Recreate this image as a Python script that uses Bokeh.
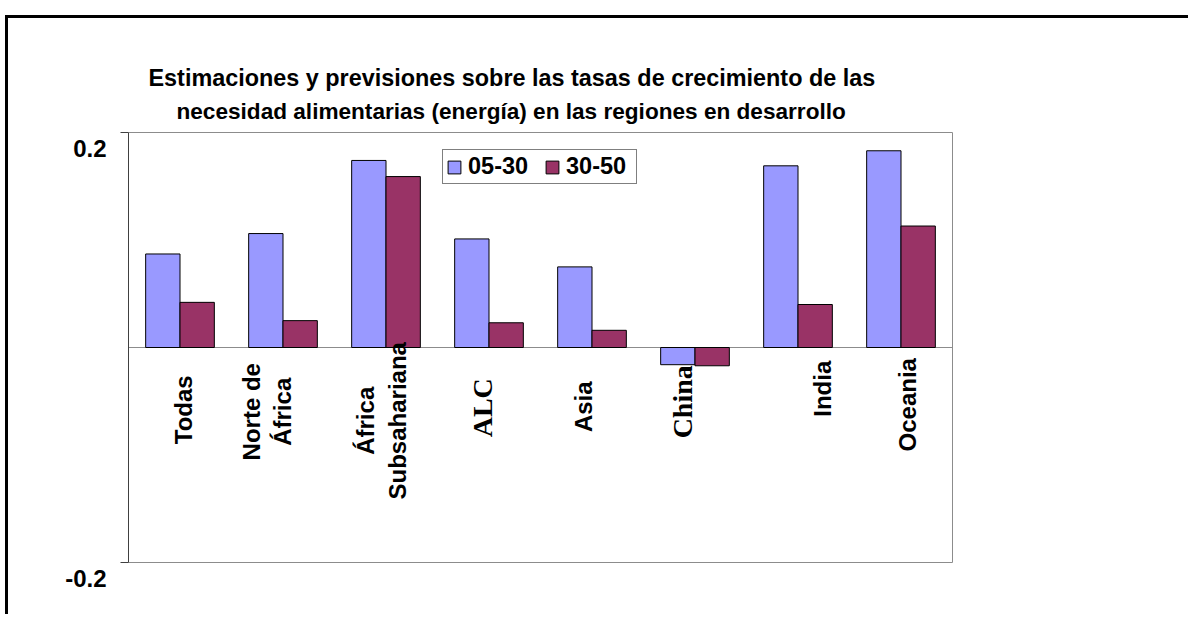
import numpy as np
from bokeh.plotting import figure
from bokeh.models import (ColumnDataSource, Range1d, Title, FixedTicker,
                          Legend, LegendItem, LinearAxis)
from bokeh.embed import file_html
from bokeh.resources import INLINE

# ---------------- data ----------------
categories = ["Todas", "Norte de\nÁfrica", "África\nSubsahariana", "ALC",
              "Asia", "China", "India", "Oceania"]
series_names = ["05-30", "30-50"]
s_05_30 = [0.087, 0.106, 0.174, 0.101, 0.075, -0.016, 0.169, 0.183]
s_30_50 = [0.042, 0.025, 0.159, 0.023, 0.016, -0.017, 0.040, 0.113]
y_ticks = [-0.2, 0.2]
y_tick_labels = {-0.2: "-0.2", 0.2: "0.2"}
title_lines = ["Estimaciones y previsiones sobre las tasas de crecimiento de las",
               "necesidad alimentarias (energía) en las regiones en desarrollo"]

# ---------------- styles ----------------
BLUE = "#9999FF"
RED = "#993366"
GREY = "#8c8c8c"
SANS = "Liberation Sans"
SERIF = "Liberation Serif"
label_fonts = [SANS, SANS, SANS, SERIF, SANS, SERIF, SANS, SANS]
label_sizes = ["24px", "24px", "24px", "28px", "24px", "28px", "24px", "24px"]
label_dx = [3.5, -16, -4.5, -6.5, -8.5, -12.5, 24.5, 6.5]
label_dy = [1, 3, 12, -1, -2, -7, -20, -4]

YMIN, YMAX = -0.2, 0.2
PLOT_H = 430.0                      # pixel height of the value axis span
PX = PLOT_H / (YMAX - YMIN)          # pixels per unit
EXTRA_BOTTOM = 20                    # room below the axis for the shifted label
LABEL_SHIFT = 16                     # tick labels sit 16px below their ticks
n = len(categories)
CAT_PX = 103.0

x = np.arange(n)
bw = 1.0 / 3.0

y_lo = YMIN - EXTRA_BOTTOM / PX
y_hi = YMAX + 1 / PX
frame_h = int(round((y_hi - y_lo) * PX))
x_hi = n - 0.5 + 1 / CAT_PX
frame_w = int(round((x_hi + 0.5) * CAT_PX))

W, H = 1183, 599
mb_left, mb_top = 120, 113

p = figure(width=W, height=H, output_backend="svg", toolbar_location=None,
           x_range=Range1d(-0.5, x_hi), y_range=Range1d(y_lo, y_hi),
           min_border_left=mb_left, min_border_top=mb_top,
           min_border_right=W - mb_left - frame_w,
           min_border_bottom=H - mb_top - frame_h, title=None)
p.styles = {"margin-left": "5px", "margin-top": "15px",
            "border-left": "3px solid black", "border-top": "3px solid black"}
p.xaxis.visible = False
p.xgrid.visible = False
p.ygrid.visible = False
p.outline_line_color = None
p.background_fill_color = "white"
p.border_fill_color = "white"

# axis carrying the tick marks (data range); marks drawn as unlabeled minor ticks
yax = p.yaxis[0]
yax.ticker = FixedTicker(ticks=[], minor_ticks=y_ticks)
yax.bounds = (YMIN, YMAX)
yax.major_tick_out = 0
yax.major_tick_in = 0
yax.minor_tick_out = 8
yax.minor_tick_in = 0
yax.axis_line_color = "#404040"
yax.minor_tick_line_color = "#404040"
yax.minor_tick_line_width = 1
yax.major_label_standoff = 0

# axis carrying the tick labels, drawn LABEL_SHIFT px below the ticks
shift = LABEL_SHIFT / PX
p.extra_y_ranges = {"lab": Range1d(y_lo + shift, y_hi + shift)}
lax = LinearAxis(y_range_name="lab", ticker=FixedTicker(ticks=y_ticks),
                 major_label_overrides=y_tick_labels)
lax.axis_line_color = None
lax.major_tick_line_color = None
lax.minor_tick_line_color = None
lax.major_tick_out = 0
lax.major_tick_in = 0
lax.major_label_text_font = SANS
lax.major_label_text_font_style = "bold"
lax.major_label_text_font_size = "24px"
lax.major_label_text_color = "black"
lax.major_label_standoff = 14
p.add_layout(lax, "left")

# plot-area border and zero line
p.quad(left=-0.5, right=n - 0.5, bottom=YMIN, top=YMAX, fill_color=None,
       line_color=GREY, line_width=1)
p.segment(x0=-0.5, x1=n - 0.5, y0=0, y1=0, line_color=GREY, line_width=1)

src = ColumnDataSource(dict(x=x, lab=categories, font=label_fonts,
                            size=label_sizes, dx=label_dx, dy=label_dy))
r1 = p.vbar(x=x - bw / 2, width=bw, top=s_05_30, bottom=0, fill_color=BLUE,
            line_color="black", line_width=1)
r2 = p.vbar(x=x + bw / 2, width=bw, top=s_30_50, bottom=0, fill_color=RED,
            line_color="black", line_width=1)

p.text(x="x", y=-0.057, text="lab", source=src, angle=np.pi / 2,
       text_align="center", text_baseline="middle", text_font="font",
       text_font_size="size", text_font_style="bold", text_color="black",
       x_offset="dx", y_offset="dy", text_line_height=1.18)

legend = Legend(items=[LegendItem(label=series_names[0], renderers=[r1]),
                       LegendItem(label=series_names[1], renderers=[r2])],
                location=(314, frame_h - (184 - 131)), orientation="horizontal")
legend.margin = 0
legend.padding = 3
legend.spacing = 9
legend.label_standoff = 6
legend.label_width = 67
legend.glyph_width = 16
legend.glyph_height = 16
legend.label_text_font = SANS
legend.label_text_font_style = "bold"
legend.label_text_font_size = "23.5px"
legend.label_text_color = "black"
legend.border_line_color = "black"
legend.border_line_width = 1
legend.background_fill_alpha = 1.0
p.add_layout(legend, "center")

title_offsets = [20, 48]
title_sizes = ["23.4px", "22.6px"]
title_standoffs = [-3, 15]
for line, off, fs, so in reversed(list(zip(title_lines, title_offsets,
                                             title_sizes, title_standoffs))):
    t = Title(text=line, align="left", offset=off, text_font=SANS,
              text_font_style="bold", text_font_size=fs, standoff=so,
              text_color="black")
    p.add_layout(t, "above")

open("out.html", "w").write(file_html(p, INLINE))
